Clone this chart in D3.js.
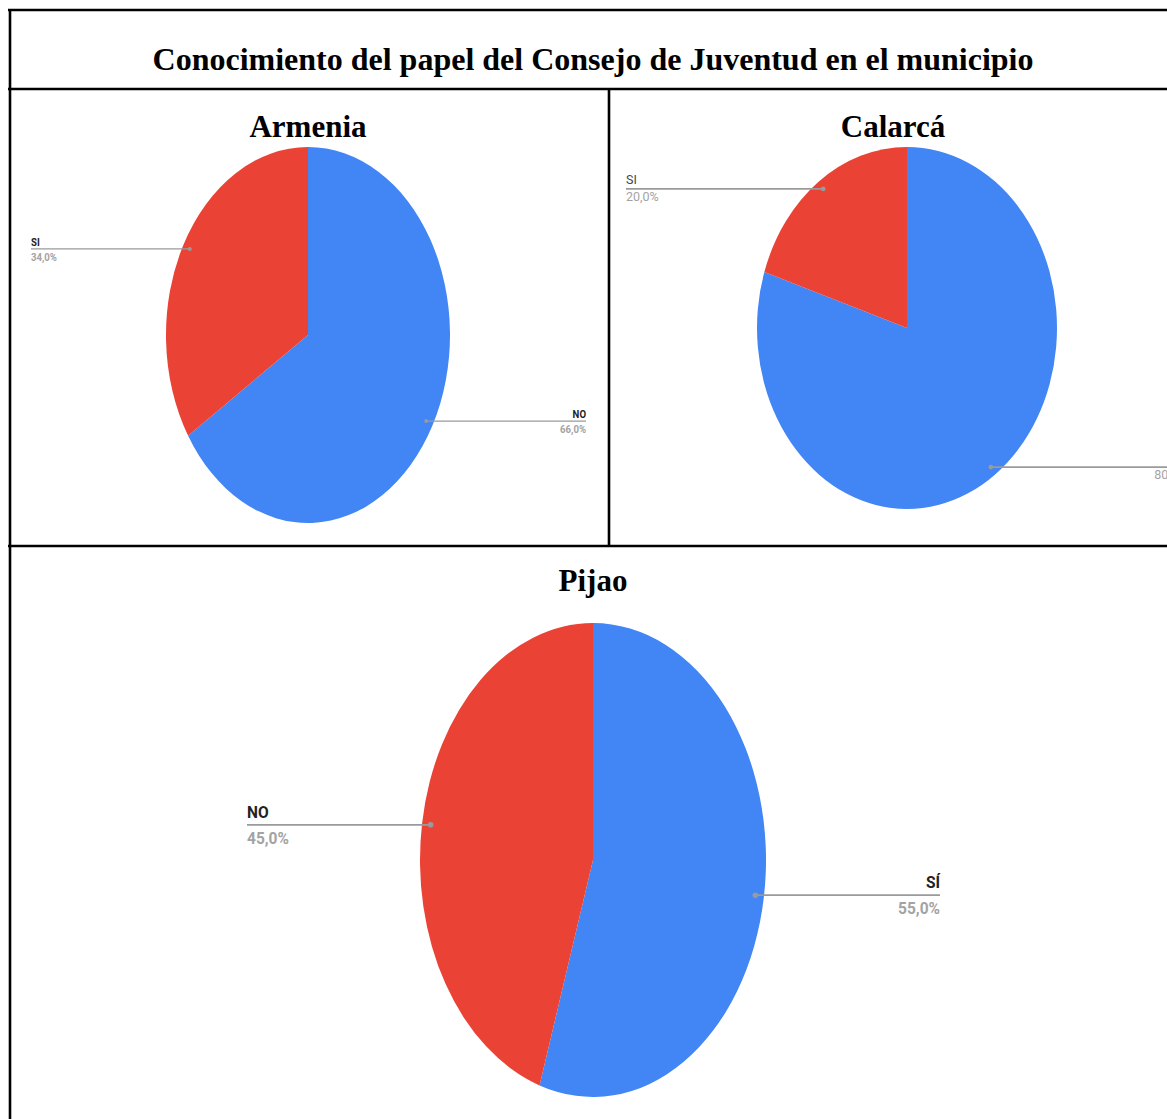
<!doctype html>
<html lang="es">
<head>
<meta charset="utf-8">
<title>Conocimiento del papel del Consejo de Juventud</title>
<style>
  body { margin: 0; background: #fff; }
  .titulo { font-family: "Liberation Serif", "Times New Roman", serif; font-weight: bold; fill: #000; }
  .borde { stroke: #000; stroke-width: 2.6px; fill: none; }
  .guia { stroke: #9a9a9a; fill: none; }
</style>
<script src="https://cdn.jsdelivr.net/npm/d3@7/dist/d3.min.js"></script>
</head>
<body>
<svg width="1167" height="1119"></svg>
<script>

// datos
var tituloGeneral = "Conocimiento del papel del Consejo de Juventud en el municipio";
var municipios = ["Armenia", "Calarcá", "Pijao"];

var armeniaRespuestas = ["NO", "SI"];
var armeniaPorcentajes = [66, 34];

var calarcaRespuestas = ["NO", "SI"];
var calarcaPorcentajes = [80, 20];

var pijaoRespuestas = ["SÍ", "NO"];
var pijaoPorcentajes = [55, 45];

var colores = ["#4285F4", "#EA4335"];

// disposicion de cada grafico (posicion, radios, etiquetas)
var graficos = [
  { nombre: municipios[0], etiquetas: armeniaRespuestas, valores: armeniaPorcentajes,
    cx: 308, cy: 335, rx: 142, ry: 188, tituloY: 137, tituloX: 308,
    izq: 31, der: 586, fs: 9.6, estira: 1.2, arriba: 3, abajo: 12, grosor: 1.2, punto: 2,
    negrita: true, colorNombre: "#222" },
  { nombre: municipios[1], etiquetas: calarcaRespuestas, valores: calarcaPorcentajes,
    cx: 907, cy: 328, rx: 150, ry: 181, tituloY: 137, tituloX: 893,
    izq: 626, der: 1187, fs: 12.5, estira: 1.05, arriba: 5, abajo: 12, grosor: 1.6, punto: 2.3,
    negrita: false, colorNombre: "#444" },
  { nombre: municipios[2], etiquetas: pijaoRespuestas, valores: pijaoPorcentajes,
    cx: 593, cy: 860, rx: 173, ry: 237, tituloY: 591, tituloX: 593,
    izq: 247, der: 940, fs: 15.5, estira: 1.05, arriba: 7, abajo: 19, grosor: 1.8, punto: 2.8,
    negrita: true, colorNombre: "#222" }
];

var svg = d3.select("svg");

// tabla
var bordes = [
  [8, 10, 1167, 10],
  [10, 9, 10, 1119],
  [8, 89, 1167, 89],
  [609, 89, 609, 546],
  [8, 546, 1167, 546]
];
svg.selectAll(".borde").data(bordes).enter().append("line")
    .attr("class", "borde")
    .attr("x1", function(d) { return d[0]; })
    .attr("y1", function(d) { return d[1]; })
    .attr("x2", function(d) { return d[2]; })
    .attr("y2", function(d) { return d[3]; });

svg.append("text")
    .attr("class", "titulo")
    .attr("x", 593)
    .attr("y", 70)
    .attr("text-anchor", "middle")
    .style("font-size", "32px")
    .text(tituloGeneral);

var pie = d3.pie().sort(null).value(function(d) { return d; });

graficos.forEach(function(g) {
  svg.append("text")
      .attr("class", "titulo")
      .attr("x", g.tituloX)
      .attr("y", g.tituloY)
      .attr("text-anchor", "middle")
      .style("font-size", "31px")
      .text(g.nombre);

  var k = g.ry / g.rx;
  var grupo = svg.append("g")
      .attr("transform", "translate(" + g.cx + "," + g.cy + ") scale(1," + k + ")");

  var arco = d3.arc().innerRadius(0).outerRadius(g.rx);
  var arcoGuia = d3.arc().innerRadius(g.rx * 0.95).outerRadius(g.rx * 0.95);
  var porciones = pie(g.valores);

  grupo.selectAll(".porcion").data(porciones).enter().append("path")
      .attr("class", "porcion")
      .attr("d", arco)
      .style("fill", function(d, i) { return colores[i]; });

  // etiquetas en coordenadas de pantalla
  var etiquetas = svg.append("g").selectAll(".etiqueta").data(porciones).enter().append("g")
      .attr("class", "etiqueta");

  etiquetas.each(function(d, i) {
    var el = d3.select(this);
    var c = arcoGuia.centroid(d);
    var px = g.cx + c[0], py = g.cy + c[1] * k;
    var derecha = c[0] > 0;
    var xFin = derecha ? g.der : g.izq;
    var anchor = derecha ? "end" : "start";

    el.append("line")
        .attr("class", "guia")
        .attr("x1", px).attr("y1", py)
        .attr("x2", xFin).attr("y2", py)
        .style("stroke-width", g.grosor);

    el.append("circle")
        .attr("cx", px).attr("cy", py)
        .attr("r", g.punto)
        .style("fill", "#9a9a9a");

    el.append("text")
        .attr("transform", "translate(" + xFin + "," + (py - g.arriba) + ") scale(1," + g.estira + ")")
        .attr("text-anchor", anchor)
        .style("font-family", "Roboto, sans-serif")
        .style("font-weight", g.negrita ? "bold" : "normal")
        .style("font-size", g.fs + "px")
        .style("fill", g.colorNombre)
        .text(g.etiquetas[i]);

    el.append("text")
        .attr("transform", "translate(" + xFin + "," + (py + g.abajo) + ") scale(1," + g.estira + ")")
        .attr("text-anchor", anchor)
        .style("font-family", "Roboto, sans-serif")
        .style("font-weight", g.negrita ? "bold" : "normal")
        .style("font-size", g.fs + "px")
        .style("fill", "#a3a3a3")
        .text(d3.format(".1f")(g.valores[i]).replace(".", ",") + "%");
  });
});

</script>
</body>
</html>
